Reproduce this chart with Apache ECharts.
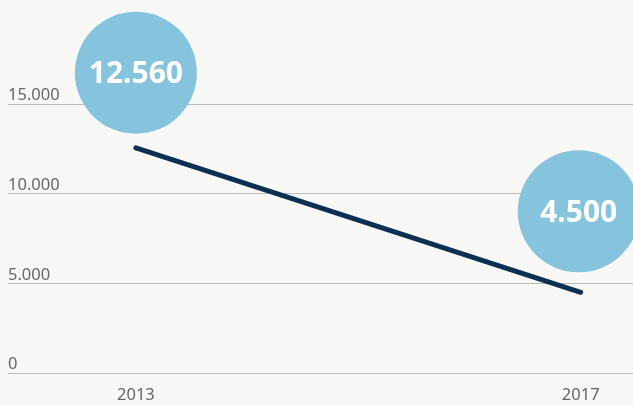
<!DOCTYPE html>
<html>
<head>
<meta charset="UTF-8">
<script src="https://cdn.jsdelivr.net/npm/echarts@6/dist/echarts.min.js"></script>
<style>
  html, body { margin: 0; padding: 0; background: #f7f7f6; }
  #chart { width: 633px; height: 405px; }
</style>
</head>
<body>
<div id="chart"></div>
<script>
  // data
  const years = [2013, 2017];
  const values = [12560, 4500];
  const yTicks = [0, 5000, 10000, 15000];
  const bubbleLabels = ['12.560', '4.500'];

  const fmt = v => v === 0 ? '0' : (v / 1000).toFixed(3);

  const chart = echarts.init(document.getElementById('chart'));
  chart.setOption({
    backgroundColor: '#f7f7f6',
    textStyle: { fontFamily: 'Noto Sans, Open Sans, sans-serif' },
    grid: { left: 8, right: 0, top: 104, bottom: 32 },
    xAxis: {
      type: 'value',
      min: 2011.85,
      max: 2017.47,
      splitLine: { show: false },
      axisLine: { show: false },
      axisTick: { show: false },
      axisLabel: {
        customValues: years,
        color: '#666666',
        fontSize: 16.5,
        margin: 14,
        formatter: v => String(v)
      }
    },
    yAxis: {
      type: 'value',
      min: 0,
      max: 15000,
      interval: 5000,
      axisLine: { show: false },
      axisTick: { show: false },
      splitLine: { lineStyle: { color: '#b9b9b9', width: 1.2 } },
      axisLabel: {
        inside: true,
        margin: 0,
        verticalAlign: 'bottom',
        padding: [0, 0, 0, 0],
        color: '#666666',
        fontSize: 16.5,
        formatter: fmt
      }
    },
    series: [
      {
        type: 'line',
        data: years.map((y, i) => [y, values[i]]),
        showSymbol: false,
        lineStyle: { color: '#0c3052', width: 5, cap: 'round' },
        z: 2
      },
      {
        type: 'scatter',
        clip: false,
        symbol: 'circle',
        symbolSize: 122,
        itemStyle: { color: '#86c3dc', opacity: 1 },
        data: years.map((y, i) => ({
          value: [y, values[i]],
          symbolOffset: i === 0 ? [0, -75] : [-2, -81]
        })),
        label: {
          show: true,
          position: 'inside',
          offset: [0, 2],
          color: '#ffffff',
          fontSize: 30,
          fontWeight: 'bold',
          formatter: p => bubbleLabels[p.dataIndex]
        },
        emphasis: { disabled: true },
        z: 3
      }
    ]
  });
</script>
</body>
</html>
